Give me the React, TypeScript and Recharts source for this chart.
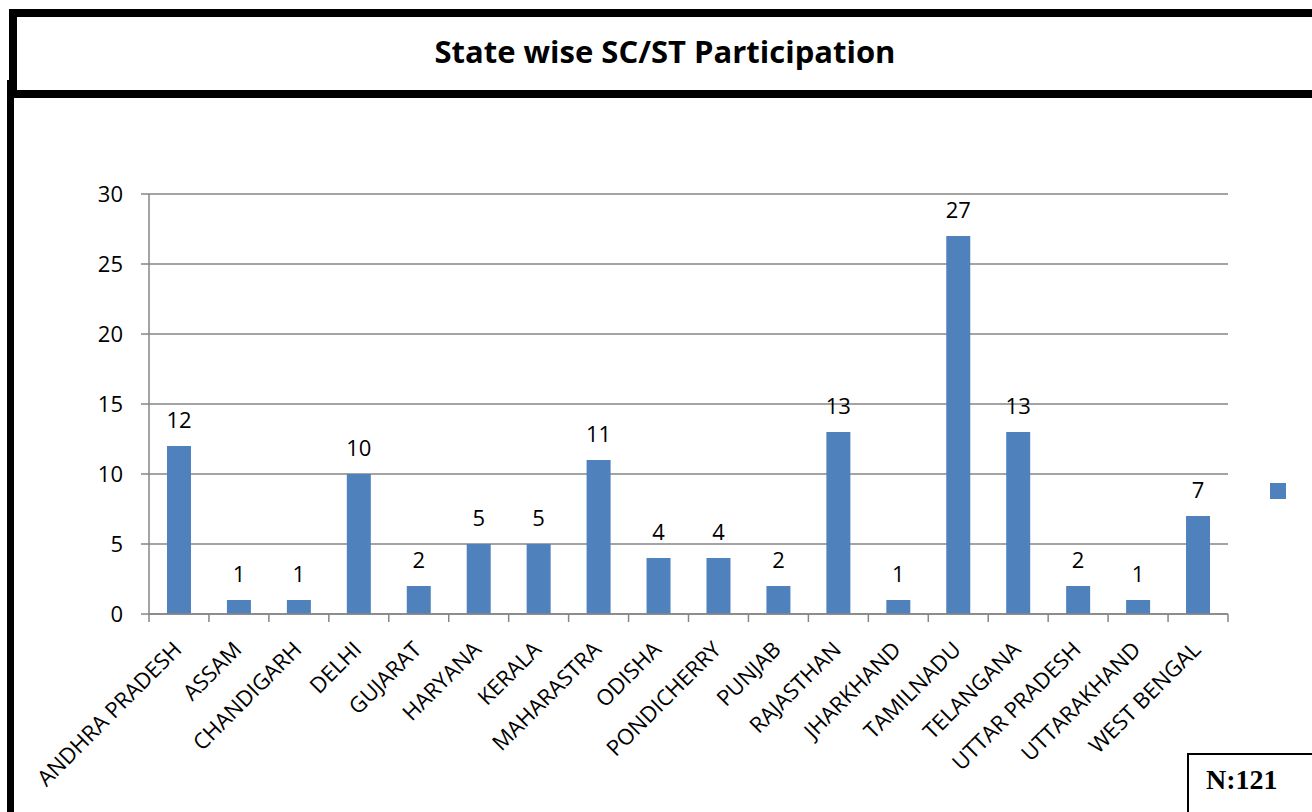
import React from 'react';
import { BarChart, Bar, XAxis, YAxis, CartesianGrid, LabelList, Legend } from 'recharts';

const states = [
  'ANDHRA PRADESH', 'ASSAM', 'CHANDIGARH', 'DELHI', 'GUJARAT', 'HARYANA', 'KERALA', 'MAHARASTRA', 'ODISHA',
  'PONDICHERRY', 'PUNJAB', 'RAJASTHAN', 'JHARKHAND', 'TAMILNADU', 'TELANGANA', 'UTTAR PRADESH', 'UTTARAKHAND', 'WEST BENGAL',
];
const participants = [12, 1, 1, 10, 2, 5, 5, 11, 4, 4, 2, 13, 1, 27, 13, 2, 1, 7];
const yTicks = [0, 5, 10, 15, 20, 25, 30];

const data = states.map((s, i) => ({ state: s, value: participants[i] }));

const FONT = '"Open Sans", sans-serif';
const GRID = '#868686';
const BLUE = '#4F81BD';

const W = 1312;
const H = 812;
const M = { top: 194, right: 84, left: 89, bottom: 18 };
const Y_W = 60;
const step = (W - M.left - M.right - Y_W) / states.length;

function StateTick(props: any) {
  const { x, y, payload, index } = props;
  return (
    <g>
      <line x1={x - step / 2} x2={x - step / 2} y1={y - 8} y2={y} stroke={GRID} strokeWidth={1.5} />
      {index === states.length - 1 && (
        <line x1={x + step / 2} x2={x + step / 2} y1={y - 8} y2={y} stroke={GRID} strokeWidth={1.5} />
      )}
      <text
        x={x + 4}
        y={y + 29}
        textAnchor="end"
        transform={`rotate(-45, ${x + 4}, ${y + 29})`}
        fontFamily={FONT}
        fontSize={22}
        fill="#000"
      >
        {payload.value}
      </text>
    </g>
  );
}

// zero-size legend so it doesn't eat into the plot area
function LegendBox() {
  return (
    <div style={{ position: 'relative', width: 0, height: 0 }}>
      <div style={{ position: 'absolute', left: 0, top: 0, width: 16, height: 16, background: BLUE }} />
    </div>
  );
}

export default function App() {
  return (
    <div style={{ position: 'absolute', left: 0, top: 0, width: W, height: H, overflow: 'hidden', background: '#fff' }}>
      {/* title frame */}
      <div style={{ position: 'absolute', left: 9, top: 9, width: W, height: 89, borderTop: '8px solid #000', borderLeft: '8px solid #000', borderBottom: '8px solid #000', boxSizing: 'border-box' }} />
      <div style={{ position: 'absolute', left: 7, top: 80, width: 7, height: H, background: '#000' }} />
      <div style={{ position: 'absolute', left: 0, top: 30, width: W + 18, textAlign: 'center', fontFamily: FONT, fontWeight: 700, fontSize: 31, color: '#000' }}>
        State wise SC/ST Participation
      </div>

      <div style={{ position: 'absolute', left: 0, top: 0 }}>
        <BarChart width={W} height={H} data={data} margin={M} barCategoryGap="30%">
          <CartesianGrid vertical={false} stroke={GRID} strokeWidth={1.5} />
          <XAxis
            dataKey="state"
            interval={0}
            height={180}
            tickLine={false}
            axisLine={{ stroke: GRID, strokeWidth: 1.5 }}
            tick={<StateTick />}
          />
          <YAxis
            width={Y_W}
            domain={[0, 30]}
            ticks={yTicks}
            tickSize={8}
            tickMargin={18}
            axisLine={{ stroke: GRID, strokeWidth: 1.5 }}
            tickLine={{ stroke: GRID, strokeWidth: 1.5 }}
            tick={{ fontFamily: FONT, fontSize: 22, fill: '#000' }}
          />
          <Legend
            layout="horizontal"
            verticalAlign="middle"
            align="right"
            content={<LegendBox />}
            wrapperStyle={{ left: 1270, top: 483, width: 0, height: 0 }}
          />
          <Bar dataKey="value" fill={BLUE} isAnimationActive={false}>
            <LabelList dataKey="value" position="top" offset={18} style={{ fontFamily: FONT, fontSize: 22, fill: '#000' }} />
          </Bar>
        </BarChart>
      </div>

      {/* sample size box */}
      <div style={{ position: 'absolute', left: 1187, top: 753, width: 200, height: 100, border: '2px solid #000', boxSizing: 'border-box' }} />
      <div style={{ position: 'absolute', left: 1206, top: 764, fontFamily: '"Liberation Serif", serif', fontWeight: 700, fontSize: 28, color: '#000' }}>
        N:121
      </div>
    </div>
  );
}
